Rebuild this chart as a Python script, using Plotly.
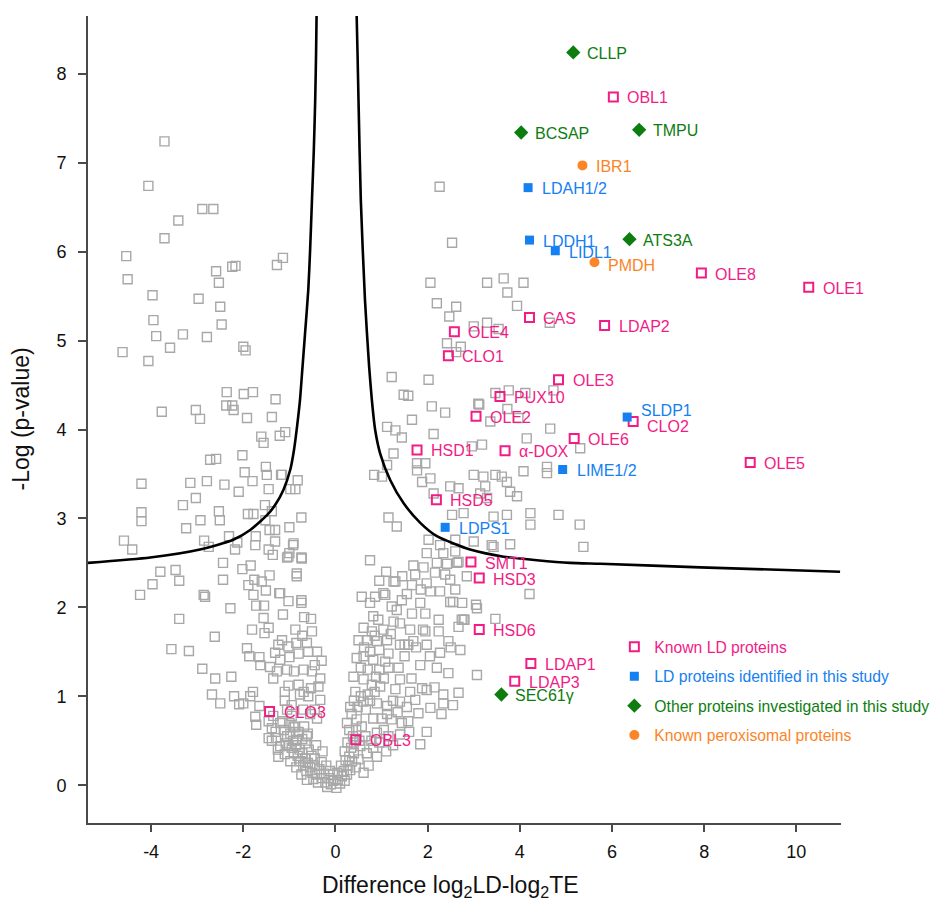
import plotly.graph_objects as go

# ---------------- background proteins (grey open squares) ----------------
grey_pts = [
    (-3.71,7.24),(-4.06,6.74),(-2.89,6.48),(-2.65,6.48),(-3.41,6.35),(-3.71,6.15),(-4.54,5.95),(-4.51,5.69),
    (-3.97,5.51),(-2.97,5.47),(-2.59,5.78),(-2.53,5.65),(-2.24,5.83),(-2.17,5.84),(-1.27,5.85),(-1.14,5.93),
    (-2.50,5.38),(-2.47,5.18),(-3.95,5.23),(-3.89,5.05),(-3.31,5.07),(-2.79,5.04),(-3.59,4.92),(-4.62,4.87),
    (-4.06,4.77),(-2.00,4.93),(-1.95,4.89),(-2.36,4.42),(-1.99,4.40),(-1.79,4.42),(-1.30,4.34),(-3.77,4.20),
    (-3.03,4.22),(-2.94,4.12),(-2.37,4.27),(-2.24,4.27),(-2.21,4.22),(-1.92,4.13),(-1.38,4.14),(-1.61,3.92),
    (-1.56,3.85),(-1.21,3.93),(-1.09,3.97),
    (-4.21,3.39),(-4.21,3.07),(-4.21,2.97),(-4.59,2.75),(-4.41,2.65),(-3.80,2.40),(-3.47,2.42),(-3.39,2.30),
    (-3.97,2.26),(-4.24,2.14),(-2.86,2.14),(-2.83,2.12),(-3.39,1.87),(-2.62,1.67),(-3.56,1.53),(-3.18,1.51),
    (-2.89,1.31),(-2.61,1.20),(-2.26,1.22),(-2.68,1.02),(-2.50,0.92),(-2.20,1.00),(-2.09,0.91),
    (-3.15,3.40),(-2.79,3.42),(-2.41,3.38),(-3.31,3.15),(-3.03,3.23),(-2.93,2.98),(-3.24,2.89),(-2.53,3.08),
    (-2.51,2.98),(-2.72,3.66),(-2.59,3.67),(-2.02,3.71),(-1.97,3.52),(-1.80,3.42),(-2.10,3.30),(-1.51,3.58),
    (-1.49,3.49),(-1.45,3.33),(-1.18,3.49),(-0.82,3.43),(-0.98,3.33),(-0.87,3.33),(-1.90,3.05),(-1.78,3.05),
    (-1.53,3.15),(-1.38,3.08),(-1.52,2.98),(-1.43,2.87),(-1.31,2.87),(-1.00,2.90),(-0.74,3.01),(-2.31,2.80),
    (-2.13,2.73),(-2.85,2.75),(-2.75,2.68),(-2.18,2.65),(-1.73,2.80),(-1.74,2.70),(-1.31,2.74),(-1.45,2.65),
    (-1.36,2.59),(-0.92,2.70),(-1.00,2.61),(-1.05,2.56),(-0.74,2.56),(-2.44,2.50),(-2.44,2.31),(-2.02,2.43),
    (-1.84,2.47),(-1.76,2.31),(-1.43,2.36),(-0.84,2.38),(-0.84,2.35),(-1.89,2.25),(-1.78,2.14),(-1.51,2.19),
    (-1.60,2.29),(-1.22,2.16),(-0.74,2.08),(-2.28,1.99),(-1.16,3.49),(-0.91,2.72),(-1.02,2.57),(-0.73,2.55),
    (-1.20,2.16),(-1.02,2.07),
    (-1.72,2.02),(-1.55,2.02),(-0.74,2.05),(-1.56,1.88),(-1.14,1.92),(-0.68,1.89),(-0.53,1.87),(-1.81,1.75),
    (-1.45,1.77),(-1.54,1.71),(-0.87,1.75),(-0.51,1.73),(-1.16,1.63),(-1.24,1.58),(-1.02,1.56),(-0.62,1.60),
    (-1.92,1.54),(-1.65,1.44),(-1.87,1.45),(-1.31,1.49),(-1.20,1.41),(-1.00,1.44),(-0.80,1.48),(-0.59,1.50),
    (-1.63,1.35),(-1.42,1.33),(-1.27,1.28),(-1.05,1.30),(-0.90,1.28),(-0.69,1.30),(-0.51,1.28),(-1.35,1.20),
    (-1.02,1.12),(-0.80,1.13),(-0.69,1.05),(-0.53,1.09),(-0.33,1.20),(-0.37,1.11),(-0.77,1.02),(-0.59,1.00),
    (-0.33,0.96),(-1.79,1.05),(-1.85,1.00),(-2.00,0.92),(-1.65,0.89),(-1.74,0.77),(-1.72,0.68),(-1.35,0.78),
    (-1.45,0.72),(-1.20,0.70),(-1.38,0.64),(-1.45,0.53),(-1.29,0.53),(-1.20,0.44),(-1.24,0.32),(-1.02,0.44),
    (-0.91,0.66),(-0.80,0.60),(-0.62,0.55),(-0.84,0.51),(-0.45,0.85),(-0.40,0.75),(-0.55,0.80),(-0.70,0.85),
    (-0.95,0.90),(-1.10,0.95),(-1.10,1.05),(-0.45,1.35),(-0.40,1.50),(-0.30,1.40),(-0.85,1.60),(-0.72,1.68),
    (0.75,2.53),(1.69,2.47),(1.91,2.45),(2.20,2.50),(2.42,2.49),(2.64,2.50),(1.30,2.29),(1.73,2.37),
    (1.66,2.25),(1.98,2.27),(2.16,2.39),(2.38,2.37),(2.49,2.31),(2.06,2.18),(2.27,2.18),(0.57,2.12),
    (0.75,2.05),(1.04,2.16),(1.22,2.01),(1.44,2.08),(1.33,1.97),(1.66,1.93),(1.84,2.05),(1.95,1.93),
    (2.24,1.86),(2.49,2.06),(2.55,2.06),(0.82,1.90),(0.93,1.86),(0.61,1.77),(0.79,1.73),(1.04,1.75),
    (1.26,1.84),(1.40,1.82),(1.62,1.75),(1.95,1.73),(2.24,1.73),(2.67,1.78),(2.74,1.86),(2.80,1.86),
    (3.07,1.99),(0.50,1.63),(0.68,1.63),(0.90,1.62),(1.12,1.63),(1.40,1.58),(1.50,1.58),(1.58,1.58),
    (1.69,1.62),(1.98,1.58),(2.45,1.62),(2.71,1.52),(0.46,1.43),(0.61,1.45),(0.82,1.41),(1.08,1.39),
    (1.37,1.32),(1.84,1.35),(2.20,1.32),(2.27,1.49),(2.45,1.26),(3.07,1.24),(0.39,1.22),(0.61,1.19),
    (0.79,1.13),(0.97,1.11),(1.40,1.19),(1.62,1.05),(1.88,1.09),(1.98,1.07),(2.34,1.02),(2.67,1.04),
    (0.43,1.05),(0.61,0.94),(0.90,0.92),(1.12,0.89),(1.40,0.94),(1.73,0.96),(2.06,0.87),(0.25,0.70),
    (0.46,0.74),(0.57,0.66),(0.82,0.75),(1.22,0.74),(1.44,0.70),(1.58,0.72),(1.80,0.81),(1.98,0.60),
    (1.40,0.57),(1.84,0.46),(0.90,0.59),(0.54,0.44),(0.68,0.36),(0.90,0.32),(0.50,0.29),(0.61,0.14),
    (1.15,3.01),(1.33,2.91),(0.84,3.49),(1.01,3.47),(1.12,4.03),(1.30,3.99),(1.26,3.73),(1.12,3.60),
    (1.26,2.29),(0.86,2.12),(1.08,2.14),
    (1.22,4.59),(2.02,4.56),(1.48,4.39),(1.58,4.38),(2.09,4.26),(2.38,4.19),(3.10,4.29),(3.47,4.41),
    (1.66,4.11),(1.44,3.91),(2.13,3.95),(4.66,4.01),(4.15,3.90),(2.96,3.81),(3.18,3.83),(1.77,3.62),
    (1.77,3.54),(1.95,3.62),(2.06,3.45),(1.88,3.41),(3.00,3.49),(3.21,3.47),(3.47,3.49),(3.61,3.47),
    (3.72,3.41),(4.08,3.53),(4.59,3.58),(4.59,3.51),(5.31,3.79),(2.49,3.36),(2.67,3.34),(2.13,3.28),
    (3.14,3.28),(3.25,3.36),(3.79,3.30),(3.94,3.25),(3.29,3.23),(2.53,3.04),(2.78,3.06),(3.43,3.02),
    (3.72,3.04),(4.23,3.06),(4.23,2.93),(4.84,3.04),(5.30,2.93),(5.38,2.68),(2.02,2.76),(2.27,2.70),
    (2.60,2.76),(3.00,2.74),(3.43,2.68),(1.98,2.61),(2.34,2.61),(2.60,2.63),(2.67,2.51),
    (3.76,4.44),(4.12,4.41),(4.73,4.44),(3.12,4.28),(3.73,4.23),(3.97,4.13),(3.36,4.09),
    (2.26,6.73),(2.53,6.10),(2.06,5.65),(3.29,5.65),(3.65,5.70),(4.08,5.65),(3.73,5.54),(2.20,5.42),
    (2.62,5.38),(3.94,5.39),(2.47,5.27),(3.00,5.16),(3.29,5.20),(3.54,5.13),(4.65,5.20),(2.42,4.97),
    (2.72,4.93),(2.62,4.87),
    (4.21,2.15),(3.05,2.03),(2.78,1.86),(3.47,1.87),(2.34,0.92),(3.79,2.71),(3.39,2.70),
    (-1.12,0.62),(-1.05,0.55),(-0.98,0.58),(-0.92,0.50),(-1.08,0.47),(-0.95,0.42),(-0.86,0.45),(-0.78,0.40),
    (-0.90,0.36),(-0.82,0.33),(-0.72,0.36),(-0.66,0.30),(-0.76,0.27),(-0.60,0.25),(-0.70,0.22),(-0.55,0.20),
    (-0.63,0.16),(-0.50,0.14),(-0.45,0.22),(-0.40,0.12),(-0.48,0.07),(-0.35,0.18),(-0.30,0.08),(-0.38,0.03),
    (-0.25,0.13),(-0.22,0.03),(-0.15,0.08),(-0.10,0.01),(-0.18,-0.02),(-0.05,0.05),(0.02,-0.03),(0.05,0.06),
    (0.10,0.02),(0.14,0.10),(0.20,0.05),(0.18,0.16),(0.25,0.12),(0.28,0.22),(0.32,0.17),(0.36,0.27),
    (0.30,0.32),(0.40,0.36),(0.34,0.42),(0.44,0.20),(-0.58,0.40),(-0.52,0.33),(-0.65,0.47),(-0.72,0.52),
    (-0.80,0.58),(-0.88,0.65),(-0.60,0.58),(-0.45,0.30),(-0.42,0.45),(-0.30,0.26),(-0.28,0.38),(-0.20,0.22),
    (-0.12,0.16),(-0.05,0.12),(0.04,0.14),(0.12,0.22),(0.22,0.28),(0.20,0.38),(0.26,0.48),(0.38,0.55),
    (0.30,0.62),(-1.00,0.70),(-1.15,0.72),(-0.68,0.66),(-0.95,0.78),(-1.05,0.85),(-1.30,0.60),(-1.38,0.50),
    (-1.25,0.40),(-1.10,0.35),(-0.98,0.27),(-0.85,0.20),(-0.74,0.12),(-0.62,0.06),
    (0.35,0.80),(0.48,0.88),(0.55,1.00),(0.70,1.02),(0.66,0.85),(0.75,0.95),(0.85,1.05),(0.88,1.22),
    (0.70,1.30),(0.55,1.32),(0.95,1.30),(1.05,1.20),(0.75,1.50),(0.95,1.52),(0.62,1.55),(1.15,1.48),
    (0.85,1.68),(1.20,1.70),(0.40,0.95),(0.32,0.88),(0.65,0.55),(0.78,0.50),(0.95,0.48),(1.05,0.62),
    (1.15,0.55),(0.72,0.22),(0.82,0.42),(1.25,0.95),(1.30,1.08),(1.15,1.32),(0.45,0.62),(0.52,0.50),
    (0.40,0.48),(1.00,0.75),(1.12,0.80),(1.35,0.82),(1.55,0.88),(1.65,1.20),(1.50,1.45),(1.75,1.55),
    (1.90,1.75),(2.05,1.45),(2.15,1.10),(2.30,0.80),(2.55,0.90),(1.60,0.60),(1.25,0.45),(1.10,0.38),
    (2.50,1.55),(2.60,2.20),(2.85,2.35),(2.75,2.05),(1.55,2.15),(1.45,2.35),(1.10,2.40),(0.95,2.30),
    (1.85,2.20),
]
grey_x = [p[0] for p in grey_pts]
grey_y = [p[1] for p in grey_pts]

# ---------------- significance threshold curves ----------------
left_curve_x = [-5.37,-4.02,-2.94,-2.22,-1.85,-1.48,-1.31,-1.13,-0.98,-0.90,-0.83,-0.77,-0.72,-0.66,-0.59,-0.55,-0.51,-0.47,-0.44,-0.42,-0.41]
left_curve_y = [2.50,2.56,2.65,2.76,2.87,3.04,3.15,3.32,3.55,3.77,4.05,4.33,4.67,5.08,5.57,6.02,6.58,7.14,7.70,8.26,8.65]
right_curve_x = [0.46,0.48,0.50,0.55,0.64,0.73,0.79,0.86,0.97,1.19,1.48,1.84,2.20,2.92,3.65,4.37,5.09,5.75,7.92,10.95]
right_curve_y = [8.65,8.20,7.70,6.58,5.46,4.71,4.33,4.00,3.73,3.43,3.17,2.95,2.80,2.65,2.57,2.53,2.50,2.49,2.45,2.40]

# ---------------- labelled proteins ----------------
known_ld_names = ["OBL1","OLE8","OLE1","CAS","LDAP2","OLE4","CLO1","OLE3","PUX10","OLE2","CLO2","OLE6",
                  "HSD1","α-DOX","OLE5","HSD5","SMT1","HSD3","HSD6","LDAP1","LDAP3","CLO3","OBL3"]
known_ld_x = [6.03,7.94,10.27,4.21,5.84,2.58,2.45,4.84,3.57,3.05,6.46,5.18,
              1.77,3.68,9.00,2.19,2.94,3.12,3.12,4.24,3.89,-1.43,0.44]
known_ld_y = [7.74,5.76,5.60,5.26,5.17,5.10,4.83,4.56,4.37,4.15,4.09,3.90,
              3.77,3.76,3.63,3.21,2.51,2.33,1.75,1.37,1.17,0.83,0.51]

new_ld_names = ["LDAH1/2","LDDH1","LIDL1","SLDP1","LIME1/2","LDPS1"]
new_ld_x = [4.18,4.21,4.77,6.33,4.93,2.38]
new_ld_y = [6.72,6.13,6.01,4.14,3.55,2.90]

other_names = ["CLLP","BCSAP","TMPU","ATS3A","SEC61γ"]
other_x = [5.16,4.03,6.59,6.38,3.60]
other_y = [8.24,7.34,7.37,6.14,1.02]

perox_names = ["IBR1","PMDH"]
perox_x = [5.36,5.62]
perox_y = [6.97,5.88]

legend_labels = ["Known LD proteins", "LD proteins identified in this study",
                 "Other proteins investigated in this study", "Known peroxisomal proteins"]

x_ticks = [-4, -2, 0, 2, 4, 6, 8, 10]
x_tick_text = ["-4", "-2", "0", "2", "4", "6", "8", "10"]
y_ticks = [0, 1, 2, 3, 4, 5, 6, 7, 8]

# ---------------- styles ----------------
C_MAG = "#f21c86"
C_BLUE = "#1580f2"
C_GREEN = "#0d7d10"
C_ORANGE = "#fb8527"
C_GREY = "#a8a8a8"
FONT = "Liberation Sans, Arial, Helvetica, sans-serif"

label_shift = {"SLDP1": (12, 7), "CLO2": (12, -5), "PMDH": (12, -3), "LIDL1": (12, -2)}

fig = go.Figure()

fig.add_trace(go.Scatter(x=grey_x, y=grey_y, mode="markers", showlegend=False, hoverinfo="skip",
                         marker=dict(symbol="square-open", size=9, color=C_GREY, line=dict(width=1.4, color=C_GREY))))

fig.add_trace(go.Scatter(x=left_curve_x, y=left_curve_y, mode="lines", showlegend=False, hoverinfo="skip",
                         line=dict(color="black", width=2.6, shape="spline", smoothing=0.6)))
fig.add_trace(go.Scatter(x=right_curve_x, y=right_curve_y, mode="lines", showlegend=False, hoverinfo="skip",
                         line=dict(color="black", width=2.6, shape="spline", smoothing=0.6)))

groups = [
    (known_ld_names, known_ld_x, known_ld_y, C_MAG, dict(symbol="square-open", size=9, color=C_MAG, line=dict(width=2, color=C_MAG)), legend_labels[0]),
    (new_ld_names, new_ld_x, new_ld_y, C_BLUE, dict(symbol="square", size=9, color=C_BLUE, line=dict(width=0)), legend_labels[1]),
    (other_names, other_x, other_y, C_GREEN, dict(symbol="diamond", size=11, color=C_GREEN, line=dict(width=0)), legend_labels[2]),
    (perox_names, perox_x, perox_y, C_ORANGE, dict(symbol="circle", size=10, color=C_ORANGE, line=dict(width=0)), legend_labels[3]),
]

annotations = []
for i, (names, xs, ys, col, mk, lab) in enumerate(groups):
    fig.add_trace(go.Scatter(x=xs, y=ys, mode="markers", marker=mk, text=names,
                             name=f'<span style="color:{col}">{lab}</span>', legendgroup=f"g{i}"))
    for n, xv, yv in zip(names, xs, ys):
        dx, dy = label_shift.get(n, (12, -1))
        annotations.append(dict(x=xv, y=yv, xref="x", yref="y", text=n, showarrow=False,
                                xanchor="left", yanchor="middle", xshift=dx, yshift=dy,
                                font=dict(family=FONT, size=16, color=col)))

annotations.append(dict(x=0.482, y=0, xref="paper", yref="paper", yshift=-63, showarrow=False,
                        text="Difference log<sub>2</sub>LD-log<sub>2</sub>TE", xanchor="center", yanchor="middle",
                        font=dict(family=FONT, size=23, color="#111")))
annotations.append(dict(x=0, y=0.5, xref="paper", yref="paper", xshift=-68, showarrow=False,
                        text="-Log (p-value)", textangle=-90, xanchor="center", yanchor="middle",
                        font=dict(family=FONT, size=23, color="#111")))

# The page body adds an 8 px offset, so the figure is 8 px smaller and the
# top/left margins are 8 px smaller to land the plot where the reference has it.
fig.update_layout(
    width=933, height=891,
    margin=dict(l=80, r=100, t=8, b=76, autoexpand=False),
    paper_bgcolor="white", plot_bgcolor="white",
    font=dict(family=FONT, size=16, color="#111"),
    annotations=annotations,
    legend=dict(x=0.699, y=0.239, xanchor="left", yanchor="top", bgcolor="rgba(0,0,0,0)",
                font=dict(family=FONT, size=15.7), tracegroupgap=6, itemclick=False),
)
fig.update_xaxes(range=[-5.37, 10.97], showgrid=False, zeroline=False, showline=True, automargin=False,
                 linecolor="#4a4a4a", linewidth=2, ticks="outside", ticklen=7, tickwidth=2,
                 tickcolor="#4a4a4a", tickvals=x_ticks, ticktext=x_tick_text, ticklabelstandoff=4,
                 tickfont=dict(family=FONT, size=18, color="#111"))
fig.update_yaxes(range=[-0.425, 8.65], showgrid=False, zeroline=False, showline=True, automargin=False,
                 linecolor="#4a4a4a", linewidth=2, ticks="outside", ticklen=8, tickwidth=2,
                 tickcolor="#4a4a4a", tickvals=y_ticks, ticklabelstandoff=8,
                 tickfont=dict(family=FONT, size=18, color="#111"))

fig.write_html("out.html")
